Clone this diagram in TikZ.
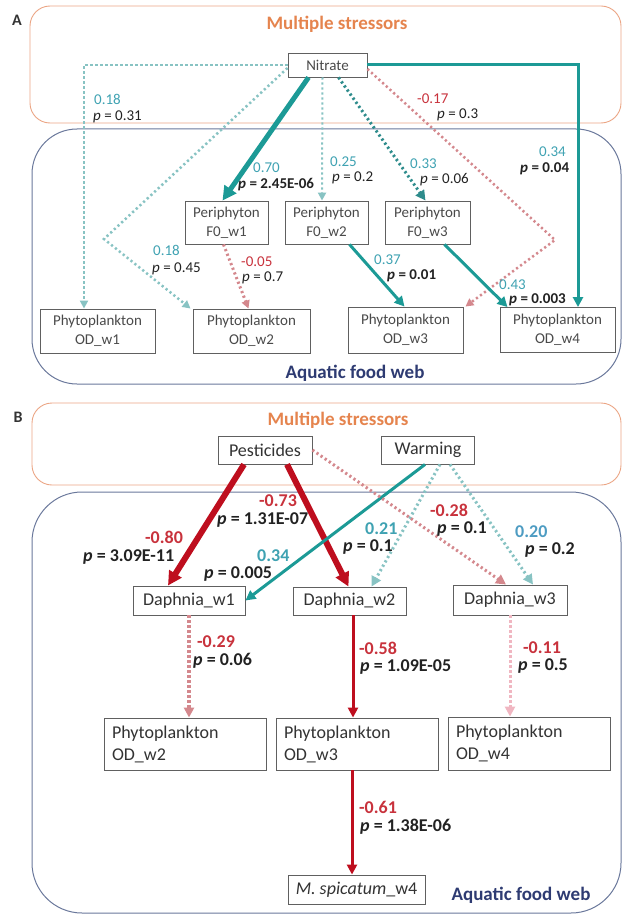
\documentclass[tikz,border=0pt]{standalone}
\usepackage{fontspec}
\setmainfont{Carlito}
\usetikzlibrary{arrows.meta,calc}
\definecolor{orangeT}{HTML}{E5844E}
\definecolor{orangeB}{HTML}{EBA584}
\definecolor{navyT}{HTML}{2E3B72}
\definecolor{navyB}{HTML}{6A789B}
\definecolor{tealS}{HTML}{1C9A96}
\definecolor{tealLab}{HTML}{3FA2B2}
\definecolor{tealDot}{HTML}{88C3C3}
\definecolor{tealDotD}{HTML}{2E8C8C}
\definecolor{blueLab}{HTML}{4E9CC2}
\definecolor{redDot}{HTML}{D4888D}
\definecolor{redLab}{HTML}{C8323C}
\definecolor{darkred}{HTML}{BE0E1E}
\definecolor{pinkDot}{HTML}{F0B6C1}
\definecolor{boxgray}{HTML}{606060}
\definecolor{textA}{HTML}{4A4A4A}
\definecolor{textB}{HTML}{333333}
\definecolor{pcol}{HTML}{222222}
\begin{document}
\begin{tikzpicture}[x=1pt,y=-1pt,
  boxA/.style={draw=boxgray, line width=0.9pt, fill=white, text=textA, inner sep=0pt,
    font=\fontsize{15}{19}\selectfont, align=center},
  boxB/.style={draw=boxgray, line width=0.9pt, fill=white, text=textB, inner sep=0pt,
    font=\fontsize{18}{22}\selectfont, align=center},
  boxBL/.style={boxB, align=left, text width=146pt, inner xsep=8pt},
  labA/.style={anchor=base west, inner sep=0pt, font=\fontsize{15}{17}\selectfont},
  labB/.style={anchor=base west, inner sep=0pt, font=\bfseries\fontsize{18}{20}\selectfont},
  dots/.style={dash pattern=on 2.2pt off 2.8pt},
  bigtip/.style={-{Triangle[length=14pt,width=14pt]}},
  midtip/.style={-{Triangle[length=10pt,width=10pt]}},
  smalltip/.style={-{Triangle[length=8pt,width=8pt]}},
  frameO/.style={draw=orangeB, line width=0.9pt, rounded corners=20pt},
  frameN/.style={draw=navyB, line width=1pt},
  title/.style={font=\bfseries\fontsize{19}{21}\selectfont, inner sep=0pt}
]
\useasboundingbox (0,0) rectangle (623,915);
% ---------------- Panel A frames
\node[font=\bfseries\fontsize{16}{18}\selectfont, text=textB, inner sep=0pt] (labelA) at (17,20) {A};
\draw[frameO] (30,6) rectangle (621,123);
\draw[frameN, rounded corners=45pt] (32,129) rectangle (621,384);
\node[title, text=orangeT] (msA) at (337,24) {Multiple stressors};
\node[title, text=navyT] (afA) at (355,373) {Aquatic food web};
% nodes A
\node[boxA, minimum width=79pt, minimum height=24pt] (nitrate) at (327.5,65) {Nitrate};
\node[boxA, minimum width=83pt, minimum height=43pt] (pf1) at (226.5,222.5) {Periphyton\\F0\_w1};
\node[boxA, minimum width=83pt, minimum height=43pt] (pf2) at (326.5,222.5) {Periphyton\\F0\_w2};
\node[boxA, minimum width=85pt, minimum height=43pt] (pf3) at (427.5,222.5) {Periphyton\\F0\_w3};
\node[boxA, minimum width=115pt, minimum height=44pt] (oa1) at (97.5,331) {Phytoplankton\\OD\_w1};
\node[boxA, minimum width=117pt, minimum height=44pt] (oa2) at (251.5,331) {Phytoplankton\\OD\_w2};
\node[boxA, minimum width=115pt, minimum height=46pt] (oa3) at (405.5,330) {Phytoplankton\\OD\_w3};
\node[boxA, minimum width=115pt, minimum height=45pt] (oa4) at (557.5,330) {Phytoplankton\\OD\_w4};
% coordinates A
\coordinate (cA1) at (84,65);
\coordinate (cA2) at (104,239);
\coordinate (cA6) at (555,240);
\coordinate (cA7) at (578,65);
% arrows A
\draw[tealDot, line width=2.5pt, dots, smalltip] (nitrate.west) -- (cA1) -- (cA1 |- oa1.north);
\draw[tealDot, line width=2.5pt, dots, smalltip] ($(nitrate.west)+(0,3)$) -- (cA2) -- ($(oa2.north west)+(-2,0)$);
\draw[tealS, line width=5pt, bigtip] ($(nitrate.south)+(-19,0)$) -- ($(pf1.north)+(-4,0)$);
\draw[tealDot, line width=2pt, dots, smalltip] ($(nitrate.south)+(-5,0)$) -- ($(pf2.north)+(-4.5,0)$);
\draw[tealDotD, line width=3pt, dots, midtip] ($(nitrate.south)+(11,0)$) -- ($(pf3.north)+(-2,0)$);
\draw[redDot, line width=2.5pt, dots, smalltip] ($(nitrate.east)+(0,4)$) -- (cA6) -- ($(oa3.north east)+(2,0)$);
\draw[tealS, line width=3pt, midtip] (nitrate.east) -- (cA7) -- (cA7 |- oa4.north);
\draw[redDot, line width=3pt, dots, smalltip] ($(pf1.south)+(-3,0)$) -- ($(oa2.north)+(-3,0)$);
\draw[tealS, line width=3pt, midtip] ($(pf2.south)+(23,0)$) -- ($(oa3.north)+(-1,0)$);
\draw[tealS, line width=3pt, midtip] ($(pf3.south)+(17,0)$) -- ($(oa4.north)+(-50,0)$);
% labels A
\node[labA, text=tealLab] (l1c) at (94,105) {0.18};
\node[labA, text=pcol] (l1p) at (93,121) {\textit{p} = 0.31};
\node[labA, text=tealLab] (l2c) at (153,255) {0.18};
\node[labA, text=pcol] (l2p) at (152,272) {\textit{p} = 0.45};
\node[labA, text=tealLab] (l3c) at (253,172) {0.70};
\node[labA, text=pcol, font=\bfseries\fontsize{15}{17}\selectfont] (l3p) at (238,188) {\textit{p} = 2.45E-06};
\node[labA, text=tealLab] (l4c) at (330,166) {0.25};
\node[labA, text=pcol] (l4p) at (332,181) {\textit{p} = 0.2};
\node[labA, text=tealLab] (l5c) at (410,168) {0.33};
\node[labA, text=pcol] (l5p) at (420,183) {\textit{p} = 0.06};
\node[labA, text=redLab] (l6c) at (417,104) {-0.17};
\node[labA, text=pcol] (l6p) at (437,118) {\textit{p} = 0.3};
\node[labA, text=tealLab] (l7c) at (539,157) {0.34};
\node[labA, text=pcol, font=\bfseries\fontsize{15}{17}\selectfont] (l7p) at (520,172) {\textit{p} = 0.04};
\node[labA, text=redLab] (l8c) at (241,266) {-0.05};
\node[labA, text=pcol] (l8p) at (242,281) {\textit{p} = 0.7};
\node[labA, text=tealLab] (l9c) at (374,264) {0.37};
\node[labA, text=pcol, font=\bfseries\fontsize{15}{17}\selectfont] (l9p) at (387,279) {\textit{p} = 0.01};
\node[labA, text=tealLab] (l10c) at (499,289) {0.43};
\node[labA, text=pcol, font=\bfseries\fontsize{15}{17}\selectfont] (l10p) at (509,303) {\textit{p} = 0.003};
% ---------------- Panel B frames
\node[font=\bfseries\fontsize{16}{18}\selectfont, text=textB, inner sep=0pt] (labelB) at (18,417) {B};
\draw[frameO] (32,403) rectangle (621,485);
\draw[frameN, rounded corners=50pt] (32,492) rectangle (621,913);
\node[title, text=orangeT] (msB) at (338,420) {Multiple stressors};
\node[title, text=navyT] (afB) at (521,895) {Aquatic food web};
% nodes B
\node[boxB, minimum width=94pt, minimum height=28pt] (pest) at (265,450) {Pesticides};
\node[boxB, minimum width=93pt, minimum height=28pt] (warm) at (428,450) {Warming};
\node[boxB, minimum width=112pt, minimum height=29pt] (d1) at (189,600.5) {Daphnia\_w1};
\node[boxB, minimum width=113pt, minimum height=28pt] (d2) at (349.5,601) {Daphnia\_w2};
\node[boxB, minimum width=114pt, minimum height=30pt] (d3) at (510,600) {Daphnia\_w3};
\node[boxBL, minimum height=52pt] (ob2) at (185,744) {Phytoplankton\\OD\_w2};
\node[boxBL, minimum height=52pt] (ob3) at (357,744) {Phytoplankton\\OD\_w3};
\node[boxBL, minimum height=53pt] (ob4) at (529,743.5) {Phytoplankton\\OD\_w4};
\node[boxB, minimum width=137pt, minimum height=29pt] (msp) at (356.5,889.5) {\textit{M. spicatum}\_w4};
% arrows B
\draw[darkred, line width=6pt, bigtip] ($(pest.south)+(-21,0)$) -- ($(d1.north)+(-21,0)$);
\draw[darkred, line width=6pt, bigtip] ($(pest.south)+(22,0)$) -- ($(d2.north)+(-1,0)$);
\draw[tealS, line width=3pt, midtip] ($(warm.south)+(-3,0)$) -- (d1.east);
\draw[tealDot, line width=3pt, dots, midtip] ($(warm.south)+(12,0)$) -- ($(d2.north)+(22,0)$);
\draw[tealDot, line width=3pt, dots, midtip] ($(warm.south)+(22,0)$) -- ($(d3.north)+(23,0)$);
\draw[redDot, line width=3pt, dots, midtip] (pest.east) -- ($(d3.north)+(-4,0)$);
\draw[redDot, line width=3.5pt, dots, midtip] (d1.south) -- (d1.south |- ob2.north);
\draw[darkred, line width=3pt, midtip] ($(d2.south)+(3.5,0)$) -- ($(ob3.north)+(-4,0)$);
\draw[pinkDot, line width=3pt, dots, midtip] (d3.south) -- (d3.south |- ob4.north);
\draw[darkred, line width=3pt, midtip] ($(ob3.south)+(-5,0)$) -- ($(msp.north)+(-4.5,0)$);
% labels B
\node[labB, text=redLab] (m1c) at (145,543) {-0.80};
\node[labB, text=pcol] (m1p) at (83,561) {\textit{p} = 3.09E-11};
\node[labB, text=redLab] (m2c) at (259,506) {-0.73};
\node[labB, text=pcol] (m2p) at (217,524) {\textit{p} = 1.31E-07};
\node[labB, text=tealLab] (m3c) at (257,561) {0.34};
\node[labB, text=pcol] (m3p) at (204,578) {\textit{p} = 0.005};
\node[labB, text=tealLab] (m4c) at (365,534) {0.21};
\node[labB, text=pcol] (m4p) at (343,551) {\textit{p} = 0.1};
\node[labB, text=redLab] (m5c) at (430,516) {-0.28};
\node[labB, text=pcol] (m5p) at (437,533) {\textit{p} = 0.1};
\node[labB, text=blueLab] (m6c) at (515,537) {0.20};
\node[labB, text=pcol] (m6p) at (525,554) {\textit{p} = 0.2};
\node[labB, text=redLab] (m7c) at (197,647) {-0.29};
\node[labB, text=pcol] (m7p) at (193,665) {\textit{p} = 0.06};
\node[labB, text=redLab] (m8c) at (359,654) {-0.58};
\node[labB, text=pcol] (m8p) at (360,671) {\textit{p} = 1.09E-05};
\node[labB, text=redLab] (m9c) at (523,653) {-0.11};
\node[labB, text=pcol] (m9p) at (518,670) {\textit{p} = 0.5};
\node[labB, text=redLab] (m10c) at (359,813) {-0.61};
\node[labB, text=pcol] (m10p) at (360,831) {\textit{p} = 1.38E-06};
\end{tikzpicture}
\end{document}
